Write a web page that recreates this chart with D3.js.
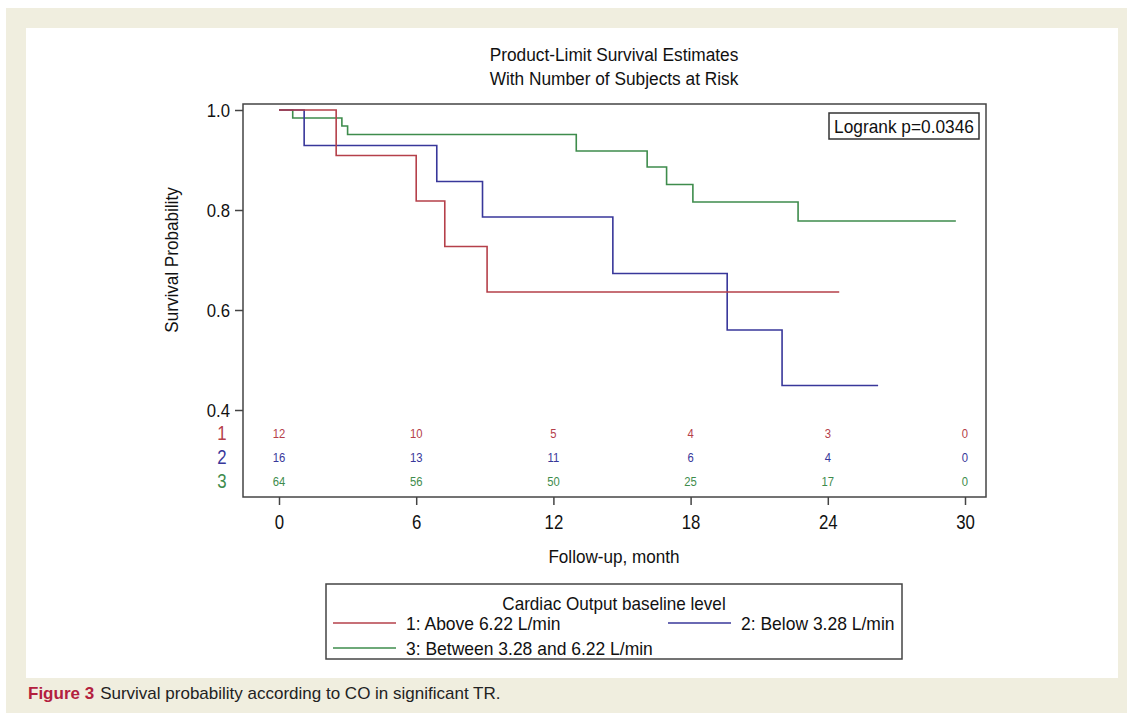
<!DOCTYPE html>
<html>
<head>
<meta charset="utf-8">
<script src="https://cdn.jsdelivr.net/npm/d3@7"></script>
<style>
  html, body { margin: 0; padding: 0; background: #ffffff; }
  svg { display: block; }
  text { font-family: "Liberation Sans", Arial, sans-serif; }
</style>
</head>
<body>
<svg id="chart" width="1127" height="717"></svg>
<script>
// ---- data ----
const groupIds = ["1", "2", "3"];
const groupLabels = ["1: Above 6.22 L/min", "2: Below 3.28 L/min", "3: Between 3.28 and 6.22 L/min"];
const groupColors = ["#b5404a", "#38379a", "#3e8c4c"];
// step curves: [time (months), survival]
const curve1 = [[0, 1.0], [2.5, 0.909], [6.0, 0.818], [7.25, 0.727], [9.1, 0.636], [24.5, 0.636]];
const curve2 = [[0, 1.0], [1.1, 0.929], [6.9, 0.857], [8.9, 0.786], [14.6, 0.673], [19.6, 0.56], [22.0, 0.449], [26.2, 0.449]];
const curve3 = [[0, 1.0], [0.6, 0.984], [2.75, 0.968], [3.0, 0.951], [13.0, 0.918], [16.1, 0.886], [16.95, 0.851], [18.1, 0.816], [22.7, 0.778], [29.6, 0.778]];
const xTicks = [0, 6, 12, 18, 24, 30];
const yTicks = [0.4, 0.6, 0.8, 1.0];
const risk1 = [12, 10, 5, 4, 3, 0];
const risk2 = [16, 13, 11, 6, 4, 0];
const risk3 = [64, 56, 50, 25, 17, 0];
const titleLines = ["Product-Limit Survival Estimates", "With Number of Subjects at Risk"];
const logrankText = "Logrank p=0.0346";
const legendTitle = "Cardiac Output baseline level";
const xLabel = "Follow-up, month";
const yLabel = "Survival Probability";
const captionBold = "Figure 3";
const captionText = "Survival probability according to CO in significant TR.";

const curves = [curve1, curve2, curve3];
const risks = [risk1, risk2, risk3];

const svg = d3.select("#chart");

// horizontally condense text (the reference uses a tall, narrow face)
function condense(sel, ratio) {
  sel.each(function () {
    const len = this.getComputedTextLength();
    d3.select(this).attr("textLength", len * ratio).attr("lengthAdjust", "spacingAndGlyphs");
  });
}

// background panels
svg.append("rect").attr("x", 6).attr("y", 8).attr("width", 1121).attr("height", 705).attr("fill", "#f0eedf");
svg.append("rect").attr("x", 26).attr("y", 28).attr("width", 1092).attr("height", 650).attr("fill", "#ffffff");

// plot frame
const frame = { left: 243, right: 986, top: 104, bottom: 497 };
const x = d3.scaleLinear().domain([0, 30]).range([279, 965]);
const y = d3.scaleLinear().domain([0.4, 1.0]).range([410, 110]);

// title
const titles = svg.selectAll("text.title").data(titleLines).enter().append("text")
  .attr("class", "title")
  .attr("x", 614).attr("y", (d, i) => 61 + i * 24)
  .attr("text-anchor", "middle").attr("font-size", 18).attr("fill", "#111")
  .text(d => d);
condense(titles, 0.96);

// curves (green first, then blue, then red on top)
const line = d3.line().x(d => x(d[0])).y(d => y(d[1])).curve(d3.curveStepAfter);
[2, 1, 0].forEach(i => {
  svg.append("path").datum(curves[i])
    .attr("d", line).attr("fill", "none")
    .attr("stroke", groupColors[i]).attr("stroke-width", 1.6);
});

// frame
svg.append("rect")
  .attr("x", frame.left).attr("y", frame.top)
  .attr("width", frame.right - frame.left).attr("height", frame.bottom - frame.top)
  .attr("fill", "none").attr("stroke", "#444").attr("stroke-width", 1.5);

// y axis
const yAxis = d3.axisLeft(y).tickValues(yTicks).tickFormat(d3.format(".1f")).tickSize(8).tickPadding(5);
const yG = svg.append("g").attr("transform", `translate(${frame.left},0)`).call(yAxis);
yG.select(".domain").remove();
yG.selectAll("line").attr("stroke", "#444").attr("stroke-width", 1.5);
yG.selectAll("text").attr("font-size", 19).attr("fill", "#111").attr("font-family", "Liberation Sans, Arial, sans-serif");
condense(yG.selectAll("text"), 0.88);

// x axis
const xAxis = d3.axisBottom(x).tickValues(xTicks).tickSize(8).tickPadding(9);
const xG = svg.append("g").attr("transform", `translate(0,${frame.bottom})`).call(xAxis);
xG.select(".domain").remove();
xG.selectAll("line").attr("stroke", "#444").attr("stroke-width", 1.5);
xG.selectAll("text").attr("font-size", 21).attr("fill", "#111").attr("font-family", "Liberation Sans, Arial, sans-serif");
condense(xG.selectAll("text"), 0.8);

// axis labels
const xl = svg.append("text").attr("x", 614).attr("y", 563).attr("text-anchor", "middle")
  .attr("font-size", 19).attr("fill", "#111").text(xLabel);
condense(xl, 0.9);
const yl = svg.append("text").attr("transform", "translate(178,260) rotate(-90)").attr("text-anchor", "middle")
  .attr("font-size", 19).attr("fill", "#111").text(yLabel);
condense(yl, 0.9);

// at-risk table
const rowY = [433, 457, 481];
groupIds.forEach((g, i) => {
  const rl = svg.append("text").attr("x", 222).attr("y", rowY[i] + 7).attr("text-anchor", "middle")
    .attr("font-size", 21).attr("fill", groupColors[i]).text(g);
  condense(rl, 0.8);
  const nums = svg.selectAll(`text.risk${i}`).data(risks[i]).enter().append("text")
    .attr("class", `risk${i}`)
    .attr("x", (d, j) => x(xTicks[j])).attr("y", rowY[i] + 4.5)
    .attr("text-anchor", "middle").attr("font-size", 12.5).attr("fill", groupColors[i])
    .text(d => d);
  condense(nums, 0.9);
});

// logrank box
svg.append("rect").attr("x", 829).attr("y", 113).attr("width", 150).attr("height", 26)
  .attr("fill", "#fff").attr("stroke", "#333").attr("stroke-width", 1.5);
const lr = svg.append("text").attr("x", 904).attr("y", 133).attr("text-anchor", "middle")
  .attr("font-size", 19).attr("fill", "#111").text(logrankText);
condense(lr, 0.91);

// legend
svg.append("rect").attr("x", 326).attr("y", 584).attr("width", 576).attr("height", 75)
  .attr("fill", "#fff").attr("stroke", "#444").attr("stroke-width", 1.5);
const lt = svg.append("text").attr("x", 614).attr("y", 610).attr("text-anchor", "middle")
  .attr("font-size", 19).attr("fill", "#111").text(legendTitle);
condense(lt, 0.9);
const legendPos = [[333, 623], [668, 623], [333, 648]];
groupLabels.forEach((lab, i) => {
  const [lx, ly] = legendPos[i];
  svg.append("line").attr("x1", lx).attr("x2", lx + 63).attr("y1", ly).attr("y2", ly)
    .attr("stroke", groupColors[i]).attr("stroke-width", 1.5);
  const t = svg.append("text").attr("x", lx + 73).attr("y", ly + 7)
    .attr("font-size", 19).attr("fill", "#111").text(lab);
  condense(t, 0.92);
});

// caption
const cap = svg.append("text").attr("x", 28).attr("y", 699).attr("font-size", 17).attr("font-family", "Lato, sans-serif");
cap.append("tspan").attr("font-weight", "bold").attr("fill", "#b3203e").text(captionBold);
cap.append("tspan").attr("dx", 6).attr("fill", "#222").text(captionText);
</script>
</body>
</html>
